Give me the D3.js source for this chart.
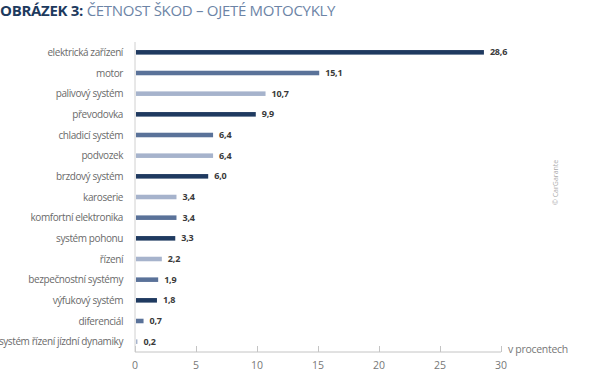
<!DOCTYPE html>
<html>
<head>
<meta charset="utf-8">
<script src="https://cdn.jsdelivr.net/npm/d3@7"></script>
<style>
  body { margin: 0; background: #fff; }
  svg text { font-family: "Open Sans", sans-serif; }
</style>
</head>
<body>
<div id="VizBox"></div>
<script>
// categories, values and shade group of each bar (0 dark, 1 medium, 2 light)
var categories = ["elektrická zařízení", "motor", "palivový systém", "převodovka",
  "chladicí systém", "podvozek", "brzdový systém", "karoserie", "komfortní elektronika",
  "systém pohonu", "řízení", "bezpečnostní systémy", "výfukový systém", "diferenciál",
  "systém řízení jízdní dynamiky"];
var values = [28.6, 15.1, 10.7, 9.9, 6.4, 6.4, 6.0, 3.4, 3.4, 3.3, 2.2, 1.9, 1.8, 0.7, 0.2];
var shades = [0, 1, 2, 0, 1, 2, 0, 2, 1, 0, 2, 1, 0, 1, 2];
var xTicks = [0, 5, 10, 15, 20, 25, 30];

var W = 600, H = 372;
var margin = {top: 42, left: 135, right: 99, bottom: 20};
var width = W - margin.left - margin.right;
var height = 352 - margin.top;

var svg = d3.select("#VizBox").append("svg")
  .attr("width", W).attr("height", H);

// title
var title = svg.append("text").attr("x", 0).attr("y", 16)
  .style("font-size", "15px").style("letter-spacing", "-0.3px");
title.append("tspan").attr("font-weight", 700).attr("fill", "#1d3a5e").text("OBRÁZEK 3: ");
title.append("tspan").attr("fill", "#6c84a6").attr("font-weight", 400).text("ČETNOST ŠKOD – OJETÉ MOTOCYKLY");

var g = svg.append("g").attr("transform", "translate(" + margin.left + "," + margin.top + ")");

var x = d3.scaleLinear().domain([0, 30]).range([0, width]);
var y = d3.scaleBand().domain(categories).range([0, height]).paddingInner(0.78).paddingOuter(0.39);
var color = d3.scaleOrdinal().domain([0, 1, 2]).range(["#1f3a60", "#5a7299", "#a6b3cc"]);

// x axis with ticks pointing up
var xAxis = g.append("g").attr("transform", "translate(0," + height + ")")
  .call(d3.axisTop(x).tickValues(xTicks).tickSize(6).tickFormat(""));
xAxis.select(".domain").attr("stroke", "#c4c4c4").attr("d", "M0,0H" + width);
xAxis.selectAll(".tick line").attr("stroke", "#c4c4c4");

g.selectAll(".xlab").data(xTicks).enter().append("text")
  .attr("x", function(d) { return x(d); })
  .attr("y", height + 17)
  .attr("text-anchor", "middle")
  .attr("fill", "#777").style("font-size", "10.5px")
  .text(function(d) { return d; });

g.append("text").attr("x", width + 7).attr("y", height + 1)
  .attr("fill", "#777").style("font-size", "10.5px").style("letter-spacing", "-0.3px")
  .text("v procentech");

// y axis line
g.append("line").attr("x1", 0).attr("x2", 0).attr("y1", 0).attr("y2", height)
  .attr("stroke", "#d0d0d0");

g.selectAll(".ylab").data(categories).enter().append("text")
  .attr("x", -12)
  .attr("y", function(d) { return y(d) + y.bandwidth() / 2; })
  .attr("dy", "0.35em")
  .attr("text-anchor", "end")
  .attr("fill", "#6a6a6a").style("font-size", "10px").style("letter-spacing", "-0.4px")
  .text(function(d) { return d; });

var rows = categories.map(function(c, i) { return {cat: c, value: values[i], shade: shades[i]}; });

g.selectAll("rect").data(rows).enter().append("rect")
  .attr("x", 1)
  .attr("y", function(d) { return y(d.cat); })
  .attr("width", function(d) { return x(d.value) - 1; })
  .attr("height", y.bandwidth())
  .attr("fill", function(d) { return color(d.shade); });

g.selectAll(".val").data(rows).enter().append("text")
  .attr("x", function(d) { return x(d.value) + 6; })
  .attr("y", function(d) { return y(d.cat) + y.bandwidth() / 2; })
  .attr("dy", "0.35em")
  .attr("fill", "#3a3a3a").attr("font-weight", 700).style("font-size", "9px")
  .style("letter-spacing", "-0.2px")
  .text(function(d) { return d.value.toFixed(1).replace(".", ","); });

// copyright
svg.append("text").attr("transform", "translate(558,205) rotate(-90)")
  .attr("fill", "#aaa").style("font-size", "7px").text("© CarGarante");
</script>
</body>
</html>
